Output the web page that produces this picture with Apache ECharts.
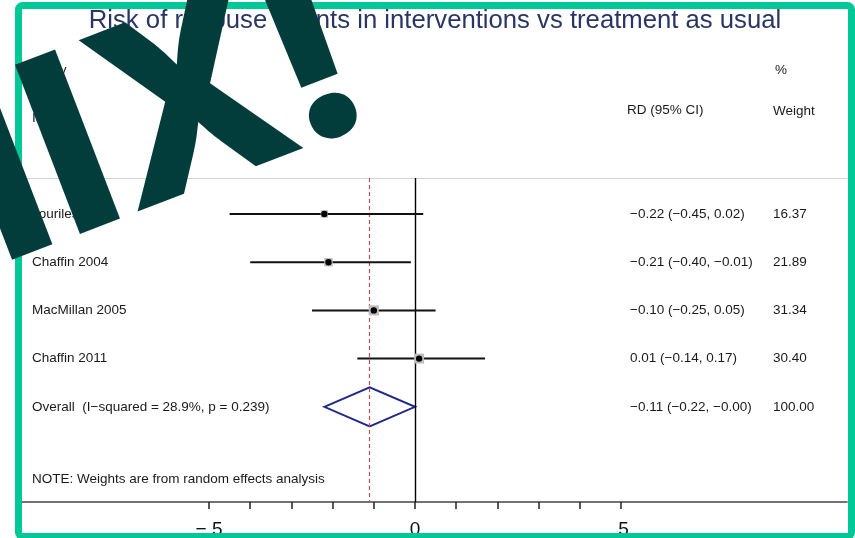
<!DOCTYPE html>
<html>
<head>
<meta charset="utf-8">
<script src="https://cdn.jsdelivr.net/npm/echarts@6/dist/echarts.min.js"></script>
<style>
  html, body { margin: 0; padding: 0; background: #ffffff; }
  #chart { width: 855px; height: 538px; }
</style>
</head>
<body>
<div id="chart"></div>
<script>
// Forest plot: risk difference of reabuse events, interventions vs treatment as usual
const studies   = ['Jouriles 2001', 'Chaffin 2004', 'MacMillan 2005', 'Chaffin 2011'];
const rd        = [-0.22, -0.21, -0.10, 0.01];
const ciLow     = [-0.45, -0.40, -0.25, -0.14];
const ciHigh    = [0.02, -0.01, 0.05, 0.17];
const weights   = [16.37, 21.89, 31.34, 30.40];

const overallLabel  = 'Overall  (I\u2212squared = 28.9%, p = 0.239)';
const overallRd     = [-0.11];
const overallLow    = [-0.22];
const overallHigh   = [-0.00];
const overallWeight = [100.00];

const tickValues     = [-0.5, -0.4, -0.3, -0.2, -0.1, 0, 0.1, 0.2, 0.3, 0.4, 0.5];
const tickLabelVals  = [-0.5, 0, 0.5];
const tickLabelTexts = ['\u2212.5', '0', '.5'];

const noteText = 'NOTE: Weights are from random effects analysis';

// layout constants (pixels)
const FONT = '"Liberation Sans", Arial, Helvetica, sans-serif';
const LABEL_X = 32, RD_X = 630, W_X = 773;
const PX_PER_UNIT = 412, ZERO_X = 415, GRID_L = 22, GRID_R = 847;
const X_MIN = -(ZERO_X - GRID_L) / PX_PER_UNIT;
const X_MAX = (GRID_R - ZERO_X) / PX_PER_UNIT;
const ROW0_Y = 214, ROW_STEP = 48.2, TOP_Y = 178, AXIS_Y = 502;
const Y_MIN = (TOP_Y - ROW0_Y) / ROW_STEP;
const Y_MAX = (AXIS_Y - ROW0_Y) / ROW_STEP;

function fmt(v) {
  const neg = v < 0 || Object.is(v, -0);
  return (neg ? '\u2212' : '') + Math.abs(v).toFixed(2);
}
function ciText(e, lo, hi) {
  return fmt(e) + ' (' + fmt(lo) + ', ' + fmt(hi) + ')';
}
const textStyle = (t) => ({ text: t, fill: '#1a1a1a', font: '13.5px ' + FONT, align: 'left', verticalAlign: 'middle' });

const studyData = studies.map((s, i) => [rd[i], ciLow[i], ciHigh[i], i, weights[i]]);
const overallRow = studies.length;
const overallData = [[overallRd[0], overallLow[0], overallHigh[0], overallRow, overallWeight[0]]];

function renderStudy(params, api) {
  const i = api.value(3);
  const c = api.coord([api.value(0), i]);
  const lo = api.coord([api.value(1), i]);
  const hi = api.coord([api.value(2), i]);
  const side = Math.sqrt(api.value(4)) * 1.8;
  const k = params.dataIndex;
  return {
    type: 'group',
    children: [
      { type: 'line', shape: { x1: lo[0], y1: lo[1], x2: hi[0], y2: hi[1] }, style: { stroke: '#111', lineWidth: 2 } },
      { type: 'rect', shape: { x: c[0] - side / 2, y: c[1] - side / 2, width: side, height: side }, style: { fill: '#bdbdbd' } },
      { type: 'circle', shape: { cx: c[0], cy: c[1], r: 3.2 }, style: { fill: '#000' } },
      { type: 'text', x: LABEL_X, y: c[1], style: textStyle(studies[k]) },
      { type: 'text', x: RD_X, y: c[1], style: textStyle(ciText(api.value(0), api.value(1), api.value(2))) },
      { type: 'text', x: W_X, y: c[1], style: textStyle(api.value(4).toFixed(2)) }
    ]
  };
}

function renderOverall(params, api) {
  const r = api.value(3);
  const c = api.coord([api.value(0), r]);
  const lo = api.coord([api.value(1), r]);
  const hi = api.coord([api.value(2), r]);
  const h = 19.5;
  return {
    type: 'group',
    children: [
      { type: 'polygon', shape: { points: [[lo[0], c[1]], [c[0], c[1] - h], [hi[0], c[1]], [c[0], c[1] + h]] },
        style: { fill: 'none', stroke: '#1f2a8a', lineWidth: 2 } },
      { type: 'text', x: LABEL_X, y: c[1], style: textStyle(overallLabel) },
      { type: 'text', x: RD_X, y: c[1], style: textStyle(ciText(overallRd[0], overallLow[0], overallHigh[0])) },
      { type: 'text', x: W_X, y: c[1], style: textStyle(api.value(4).toFixed(2)) }
    ]
  };
}

const chart = echarts.init(document.getElementById('chart'), null, { renderer: 'canvas' });

// big tilted sticker lettering, one glyph per element inside a rotated group
const STICKER_FONT = 'Inter, "DejaVu Sans", sans-serif';
const stickerGlyph = (t, x, align) => ({
  type: 'text', z: 120, silent: true,
  x: x, y: 15.8,
  style: { text: t, fill: '#023d3b', fontFamily: STICKER_FONT, fontSize: 249, fontWeight: 800, align: align || 'center', verticalAlign: 'middle' }
});

chart.setOption({
  backgroundColor: '#ffffff',
  animation: false,
  grid: { left: GRID_L, right: 855 - GRID_R, top: TOP_Y, bottom: 538 - AXIS_Y, containLabel: false, outerBoundsMode: 'none' },
  xAxis: [
    {
      type: 'value', min: X_MIN, max: X_MAX, position: 'bottom',
      axisLine: { show: true, onZero: false, lineStyle: { color: '#444', width: 1.6 } },
      axisTick: { show: true, customValues: tickValues, length: 7, lineStyle: { color: '#222', width: 1.5 } },
      axisLabel: {
        show: true, customValues: tickLabelVals, margin: 18,
        color: '#111', fontFamily: FONT, fontSize: 19,
        formatter: (v) => tickLabelTexts[tickLabelVals.indexOf(v)]
      },
      splitLine: { show: false }
    },
    {
      type: 'value', min: X_MIN, max: X_MAX, position: 'top',
      axisLine: { show: true, onZero: false, lineStyle: { color: '#d4d4d4', width: 1.2 } },
      axisTick: { show: false }, axisLabel: { show: false }, splitLine: { show: false }
    }
  ],
  yAxis: { type: 'value', min: Y_MIN, max: Y_MAX, inverse: true, show: false },
  series: [
    {
      type: 'custom', name: 'studies', xAxisIndex: 0,
      renderItem: renderStudy, data: studyData,
      encode: { x: [0, 1, 2], y: 3 }, z: 5,
      markLine: {
        silent: true, symbol: 'none', label: { show: false },
        lineStyle: { color: '#000', width: 1.4, type: 'solid' },
        data: [{ xAxis: 0 }]
      }
    },
    {
      type: 'custom', name: 'overall', xAxisIndex: 0,
      renderItem: renderOverall, data: overallData,
      encode: { x: [0, 1, 2], y: 3 }, z: 4,
      markLine: {
        silent: true, symbol: 'none', label: { show: false },
        lineStyle: { color: '#c0504d', width: 1.2, type: [4, 3] },
        data: [{ xAxis: overallRd[0] }]
      }
    }
  ],
  graphic: [
    { type: 'text', x: 435, y: 21, z: 50,
      style: { text: 'Risk of reabuse events in interventions vs treatment as usual', fill: '#2a3566', font: '25.7px ' + FONT, align: 'center', verticalAlign: 'middle' } },
    { type: 'text', x: LABEL_X, y: 70, z: 50, style: textStyle('Study') },
    { type: 'text', x: LABEL_X, y: 118, z: 50, style: textStyle('ID') },
    { type: 'text', x: 627, y: 110, z: 50, style: textStyle('RD (95% CI)') },
    { type: 'text', x: 775, y: 70, z: 50, style: textStyle('%') },
    { type: 'text', x: W_X, y: 111, z: 50, style: textStyle('Weight') },
    { type: 'text', x: LABEL_X, y: 479, z: 50, style: textStyle(noteText) },
    // green frame
    { type: 'rect', z: 100, silent: true,
      shape: { x: 18.5, y: 5.5, width: 833, height: 531, r: 4 },
      style: { fill: 'none', stroke: '#00c896', lineWidth: 7 } },
    // sticker lettering
    { type: 'group', z: 120, x: 67.5, y: 141.5, rotation: 21 * Math.PI / 180, silent: true,
      children: [
        stickerGlyph('M', -37, 'right'),
        stickerGlyph('I', 0),
        stickerGlyph('X', 129),
        stickerGlyph('!', 257)
      ] }
  ]
});
</script>
</body>
</html>
